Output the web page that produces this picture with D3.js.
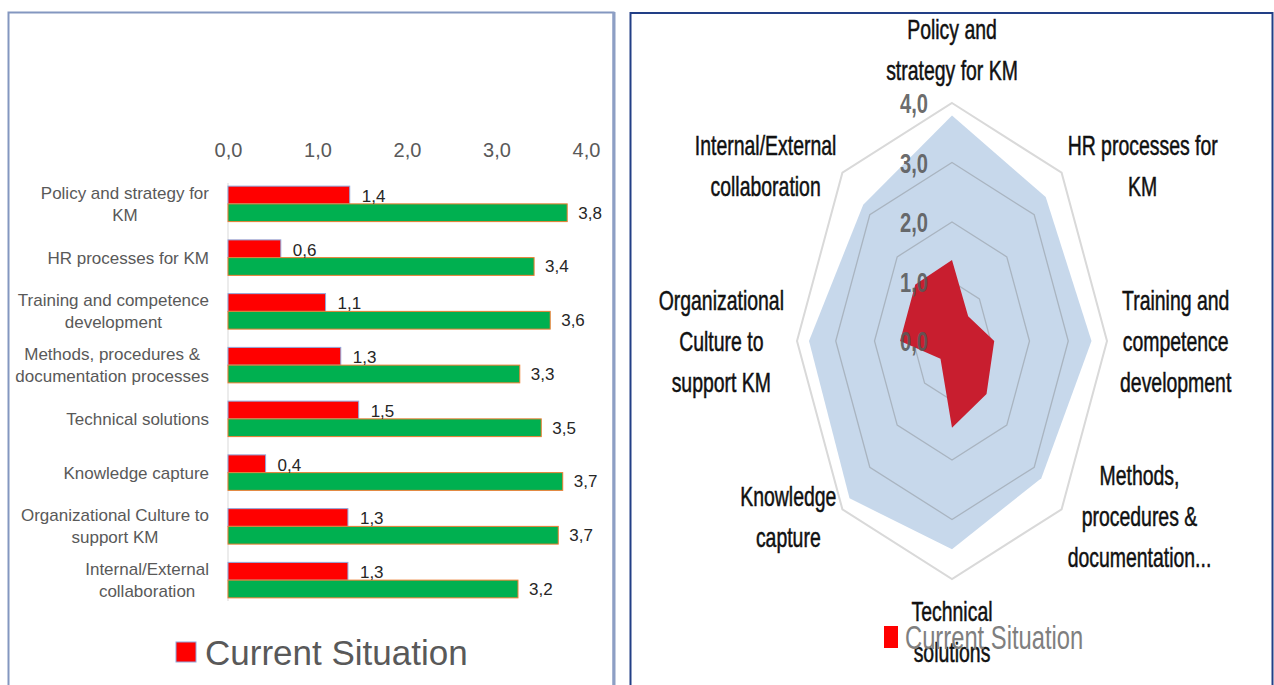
<!DOCTYPE html>
<html>
<head>
<meta charset="utf-8">
<script src="https://cdn.jsdelivr.net/npm/d3@7"></script>
<style>
  body { margin: 0; background: #fff; }
  svg { display: block; font-family: 'Liberation Sans', Arial, sans-serif; }
</style>
</head>
<body>
<div id="chart"></div>
<script>
// categories, same order in both charts (radar goes clockwise from the top)
const categories = [
  'Policy and strategy for KM',
  'HR processes for KM',
  'Training and competence development',
  'Methods, procedures & documentation processes',
  'Technical solutions',
  'Knowledge capture',
  'Organizational Culture to support KM',
  'Internal/External collaboration'
]
const barLabelLines = [
  ['Policy and strategy for', 'KM'],
  ['HR processes for KM'],
  ['Training and competence', 'development'],
  ['Methods, procedures &', 'documentation processes'],
  ['Technical solutions'],
  ['Knowledge capture'],
  ['Organizational Culture to', 'support KM'],
  ['Internal/External', 'collaboration']
]
const radarLabelLines = [
  ['Policy and', 'strategy for KM'],
  ['HR processes for', 'KM'],
  ['Training and', 'competence', 'development'],
  ['Methods,', 'procedures &', 'documentation...'],
  ['Technical', 'solutions'],
  ['Knowledge', 'capture'],
  ['Organizational', 'Culture to', 'support KM'],
  ['Internal/External', 'collaboration']
]
const currentValues = [1.36, 0.59, 1.09, 1.26, 1.46, 0.42, 1.34, 1.34]
const targetValues = [3.79, 3.42, 3.6, 3.26, 3.5, 3.74, 3.69, 3.24]
const axisTicks = [0, 1, 2, 3, 4]
const legendLabel = 'Current Situation'

const W = 1274, H = 685
const comma = d => d3.format('.1f')(d).replace('.', ',')

const svg = d3.select('#chart').append('svg')
  .attr('width', W)
  .attr('height', H)

// panel frames
svg.append('rect')
  .attr('x', 8.5).attr('y', 12.5).attr('width', 605).attr('height', 700)
  .attr('fill', 'none').attr('stroke', '#8497c0').attr('stroke-width', 2)
svg.append('line')
  .attr('x1', 614).attr('x2', 614).attr('y1', 12).attr('y2', H)
  .attr('stroke', '#8d9fc4').attr('stroke-width', 3)
svg.append('rect')
  .attr('x', 630.5).attr('y', 13).attr('width', 642).attr('height', 700)
  .attr('fill', 'none').attr('stroke', '#223f86').attr('stroke-width', 2)

// ---------- bar chart ----------
function barChart() {
  const x = d3.scaleLinear().domain([0, 4]).range([228, 586])
  const y = d3.scaleBand().domain(categories).range([177, 607])
    .paddingInner(0.34).paddingOuter(0.17)
  const inner = d3.scaleBand().domain(['current', 'target']).range([0, y.bandwidth()])

  const g = svg.append('g')

  g.append('g')
    .attr('transform', 'translate(0,157)')
    .call(d3.axisTop(x).tickValues(axisTicks).tickFormat(comma).tickSize(0).tickPadding(0))
    .call(a => a.select('.domain').remove())
    .selectAll('text')
    .attr('font-family', 'Liberation Sans, Arial, sans-serif')
    .attr('font-size', 20)
    .attr('fill', '#595959')

  g.append('line')
    .attr('x1', x(0)).attr('x2', x(0))
    .attr('y1', 183).attr('y2', 601)
    .attr('stroke', '#d9d9d9')

  const rows = g.selectAll('.row')
    .data(categories.map((c, i) => ({ c, i, cur: currentValues[i], tgt: targetValues[i] })))
    .enter().append('g')
    .attr('transform', d => `translate(0,${y(d.c)})`)

  rows.append('rect')
    .attr('x', x(0))
    .attr('y', inner('current'))
    .attr('width', d => x(d.cur) - x(0))
    .attr('height', inner.bandwidth())
    .attr('fill', '#ff0000')
    .attr('stroke', '#8fa8dc').attr('stroke-width', 1)

  rows.append('rect')
    .attr('x', x(0))
    .attr('y', inner('target'))
    .attr('width', d => x(d.tgt) - x(0))
    .attr('height', inner.bandwidth())
    .attr('fill', '#00b050')
    .attr('stroke', '#ed7d31').attr('stroke-width', 1)

  rows.append('text')
    .attr('x', d => x(d.cur) + 12)
    .attr('y', inner('current') + inner.bandwidth() / 2 + 1)
    .attr('dy', '0.35em')
    .attr('font-size', 17).attr('fill', '#262626')
    .text(d => comma(d.cur))

  rows.append('text')
    .attr('x', d => x(d.tgt) + 11)
    .attr('y', inner('target') + inner.bandwidth() / 2)
    .attr('dy', '0.35em')
    .attr('font-size', 17).attr('fill', '#262626')
    .text(d => comma(d.tgt))

  // category labels: block right-aligned, lines centered within the block
  const lineH = 22
  rows.each(function (d) {
    const lines = barLabelLines[d.i]
    const lab = d3.select(this).append('g')
    const t = lab.selectAll('text').data(lines).enter().append('text')
      .attr('font-size', 17).attr('fill', '#595959')
      .attr('text-anchor', 'middle')
      .attr('y', (l, k) => y.bandwidth() / 2 + (k - (lines.length - 1) / 2) * lineH)
      .attr('dy', '0.35em')
      .text(l => l)
    let maxW = 0
    t.each(function () { maxW = Math.max(maxW, this.getComputedTextLength()) })
    t.attr('x', 209 - maxW / 2)
  })

  // legend
  const leg = g.append('g').attr('transform', 'translate(176,642)')
  leg.append('rect').attr('width', 20).attr('height', 20)
    .attr('fill', '#ff0000').attr('stroke', '#8fa8dc')
  leg.append('text').attr('x', 29).attr('y', 10).attr('dy', '0.36em')
    .attr('font-size', 35).attr('fill', '#595959')
    .text(legendLabel)
}
barChart()

// ---------- radar chart ----------
function radarChart() {
  const cx = 952, cy = 341
  const sx = 0.72 // the reference is squeezed horizontally
  const rx = d3.scaleLinear().domain([0, 4]).range([0, 155])
  const ry = d3.scaleLinear().domain([0, 4]).range([0, 238])
  const angle = d3.scaleLinear().domain([0, categories.length]).range([0, 2 * Math.PI])
  const pt = (v, i) => [cx + rx(v) * Math.sin(angle(i)), cy - ry(v) * Math.cos(angle(i))]
  const poly = vals => 'M' + vals.map((v, i) => pt(v, i).join(',')).join('L') + 'Z'

  const g = svg.append('g')

  g.append('path')
    .attr('d', poly(targetValues))
    .attr('fill', '#c7d8eb')

  g.selectAll('.ring')
    .data(axisTicks.filter(t => t > 0))
    .enter().append('path')
    .attr('d', t => poly(categories.map(() => t)))
    .attr('fill', 'none')
    .attr('stroke', t => t === 4 ? '#d9d9d9' : '#a9b4c0')
    .attr('stroke-width', t => t === 4 ? 2 : 1.3)

  g.append('path')
    .attr('d', poly(currentValues))
    .attr('fill', '#c81e2f')

  g.selectAll('.tick-lab')
    .data(axisTicks)
    .enter().append('text')
    .attr('transform', t => `translate(${cx - 24},${cy - ry(t)}) scale(${sx},1)`)
    .attr('text-anchor', 'end')
    .attr('dy', '0.36em')
    .attr('font-size', 28).attr('font-weight', 'bold')
    .attr('fill', '#595959').attr('fill-opacity', 0.9)
    .text(comma)

  // axis labels around the outer ring
  const lineH = 41, fs = 27
  categories.forEach((c, i) => {
    const lines = radarLabelLines[i]
    const [vx, vy] = pt(4, i)
    const s = Math.sin(angle(i)), co = Math.cos(angle(i))
    const lab = g.append('g')
    const t = lab.selectAll('text').data(lines).enter().append('text')
      .attr('font-size', fs).attr('fill', '#111')
      .attr('stroke', '#111').attr('stroke-width', 0.5)
      .attr('text-anchor', 'middle')
      .text(l => l)
    let maxW = 0
    t.each(function () { maxW = Math.max(maxW, this.getComputedTextLength() * sx) })
    const halfH = lines.length * lineH / 2
    let bx = vx, by = vy
    if (Math.abs(s) > 0.9) {
      bx += Math.sign(s) * (maxW / 2 + 13)
    } else if (Math.abs(s) > 0.1) {
      bx += Math.sign(s) * (maxW / 2 + 6)
      by -= co * 10
    } else {
      by -= Math.sign(co) * (halfH + 12)
    }
    t.attr('transform', (l, k) =>
      `translate(${bx},${by + (k - (lines.length - 1) / 2) * lineH}) scale(${sx},1)`)
      .attr('dy', '0.36em')
  })

  // legend
  const leg = g.append('g').attr('transform', 'translate(884,626)')
  leg.append('rect').attr('width', 14).attr('height', 22).attr('fill', '#ff0000')
  leg.append('text')
    .attr('transform', `translate(21,11) scale(${sx},1)`)
    .attr('dy', '0.36em')
    .attr('font-size', 33).attr('fill', '#7f7f7f')
    .text(legendLabel)
}
radarChart()
</script>
</body>
</html>
